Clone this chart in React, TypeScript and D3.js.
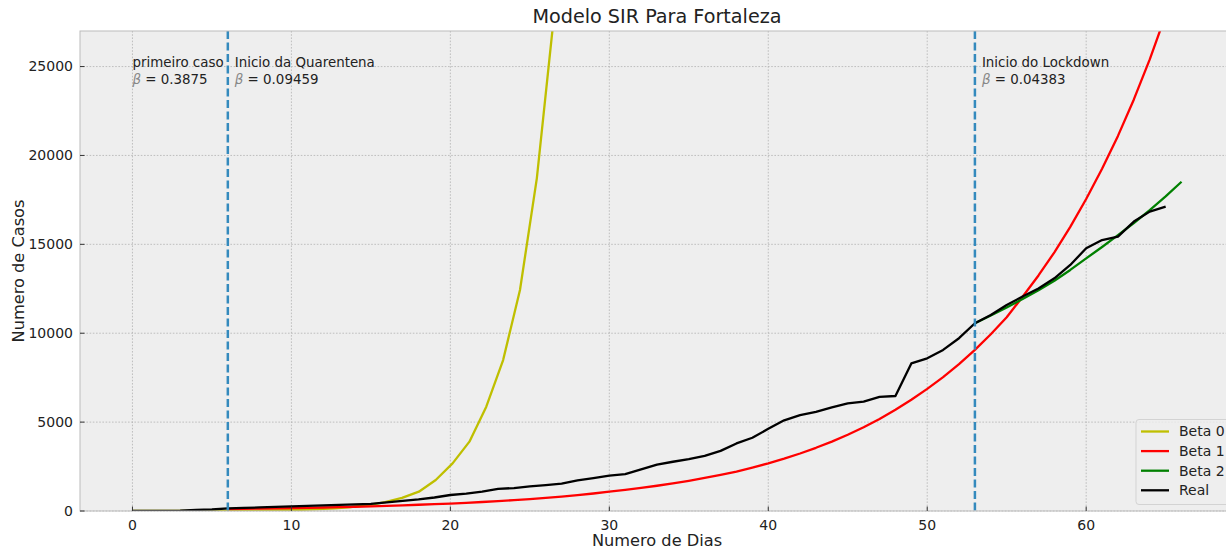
import React from 'react';
import * as d3 from 'd3';

// Dados (dias x casos acumulados)
const realDays = d3.range(0, 66);
const realCases = [
  3, 8, 12, 25, 60, 85, 150, 175, 200, 230, 260, 290, 320, 350, 370, 400, 480, 570, 650, 760,
  900, 980, 1090, 1250, 1290, 1380, 1460, 1540, 1720, 1850, 1990, 2070, 2340, 2610, 2770, 2920,
  3100, 3380, 3800, 4120, 4620, 5100, 5390, 5580, 5830, 6050, 6150, 6420, 6470, 8300, 8590,
  9060, 9720, 10560, 11020, 11590, 12060, 12520, 13090, 13840, 14780, 15240, 15430, 16280,
  16840, 17120,
];

const beta0Days = [
  0, 1.06, 2.12, 3.18, 4.24, 5.3, 6.36, 7.42, 8.48, 9.54, 10.6, 11.66, 12.72, 13.78, 14.84,
  15.9, 16.96, 18.02, 19.08, 20.14, 21.2, 22.26, 23.32, 24.38, 25.44, 26.5, 27.56,
];
const beta0Cases = [
  1, 2, 3, 5, 7, 10, 15, 22, 32, 47, 70, 103, 153, 226, 335, 496, 734, 1086, 1743, 2680, 3900,
  5866, 8490, 12430, 18712, 27700, 41000,
];

const beta1Days = d3.range(6, 66);
const beta1Cases = [
  110, 122, 134, 148, 163, 180, 198, 218, 240, 264, 290, 320, 352, 385, 420, 460, 505, 555, 610,
  670, 735, 810, 890, 985, 1086, 1190, 1300, 1420, 1550, 1700, 1860, 2030, 2220, 2440, 2680,
  2945, 3235, 3555, 3905, 4290, 4715, 5180, 5700, 6260, 6870, 7530, 8260, 9060, 9940, 10900,
  12050, 13250, 14550, 15980, 17550, 19250, 21100, 23150, 25400, 27900,
];

const beta2Days = d3.range(53, 67);
const beta2Cases = [
  10560, 11000, 11450, 11920, 12420, 12950, 13560, 14210, 14850, 15520, 16200, 16930, 17700, 18520,
];

const events = [
  {day: 6, label: 'Inicio da Quarentena', beta: '0.09459'},
  {day: 53, label: 'Inicio do Lockdown', beta: '0.04383'},
];
const firstCase = {day: 0, label: 'primeiro caso', beta: '0.3875'};

const xTicks = [0, 10, 20, 30, 40, 50, 60];
const yTicks = [0, 5000, 10000, 15000, 20000, 25000];

const series = [
  {name: 'Beta 0', color: '#bfbf00', days: beta0Days, cases: beta0Cases},
  {name: 'Beta 1', color: '#ff0000', days: beta1Days, cases: beta1Cases},
  {name: 'Beta 2', color: '#008000', days: beta2Days, cases: beta2Cases},
  {name: 'Real', color: '#000000', days: realDays, cases: realCases},
];

const W = 1226;
const H = 550;
const margin = {left: 80, top: 31, right: 1234, bottom: 511};
const font = 'DejaVu Sans, sans-serif';

export default function App() {
  const x = d3.scaleLinear().domain([-3.3, 69.3]).range([margin.left, margin.right]);
  const y = d3.scaleLinear().domain([0, 27000]).range([margin.bottom, margin.top]);

  const line = d3.line<[number, number]>()
      .x(d => x(d[0]))
      .y(d => y(d[1]));

  const plotW = margin.right - margin.left;
  const plotH = margin.bottom - margin.top;

  const annotation = (d: {day: number, label: string, beta: string}, key: string) => {
    const tx = x(d.day) + (d.day === 0 ? 0 : 7);
    return (
        <text key={key} x={tx} y={66.5} fontSize={13.4} fill="#222">
          <tspan>{d.label}</tspan>
          <tspan x={tx} dy={17}>
            <tspan fontStyle="italic" fill="#888">β</tspan> = {d.beta}
          </tspan>
        </text>
    );
  };

  return (
      <svg width={W} height={H} style={{position: 'absolute', left: 0, top: 0, background: '#fff'}}
           fontFamily={font}>
        <defs>
          <clipPath id="plot">
            <rect x={margin.left} y={margin.top} width={plotW} height={plotH}/>
          </clipPath>
        </defs>
        <rect x={margin.left} y={margin.top} width={plotW} height={plotH} fill="#eeeeee"/>

        {/* grade */}
        <g stroke="#b2b2b2" strokeWidth={0.8} strokeDasharray="1.6,1.6">
          {xTicks.map(t => <line key={`gx${t}`} x1={x(t)} x2={x(t)} y1={margin.top} y2={margin.bottom}/>)}
          {yTicks.map(t => <line key={`gy${t}`} x1={margin.left} x2={margin.right} y1={y(t)} y2={y(t)}/>)}
        </g>

        <g clipPath="url(#plot)">
          {series.map(s => (
              <path key={s.name}
                    d={line(s.days.map((d, i) => [d, s.cases[i]] as [number, number])) || ''}
                    fill="none" stroke={s.color} strokeWidth={2.3} strokeLinejoin="round"/>
          ))}
          {events.map(e => (
              <line key={`ev${e.day}`} x1={x(e.day)} x2={x(e.day)} y1={margin.top} y2={margin.bottom}
                    stroke="#348ABD" strokeWidth={2.5} strokeDasharray="8,3.5"/>
          ))}
        </g>

        {annotation(firstCase, 'first')}
        {events.map(e => annotation(e, `a${e.day}`))}

        {/* moldura */}
        <rect x={margin.left} y={margin.top} width={plotW} height={plotH} fill="none"
              stroke="#bcbcbc" strokeWidth={1}/>

        {/* eixo x */}
        {xTicks.map(t => (
            <g key={`tx${t}`}>
              <line x1={x(t)} x2={x(t)} y1={margin.bottom} y2={margin.bottom - 4.5} stroke="#333" strokeWidth={1}/>
              <text x={x(t)} y={530} textAnchor="middle" fontSize={14} fill="#222">{t}</text>
            </g>
        ))}
        {/* eixo y */}
        {yTicks.map(t => (
            <g key={`ty${t}`}>
              <line x1={margin.left} x2={margin.left + 4.5} y1={y(t)} y2={y(t)} stroke="#333" strokeWidth={1}/>
              <text x={73} y={y(t)} dy="0.35em" textAnchor="end" fontSize={14} fill="#222">{t}</text>
            </g>
        ))}

        <text x={(margin.left + margin.right) / 2} y={546} textAnchor="middle" fontSize={16.2} fill="#222">
          Numero de Dias
        </text>
        <text transform={`translate(24, ${(margin.top + margin.bottom) / 2}) rotate(-90)`}
              textAnchor="middle" fontSize={16.2} fill="#222">
          Numero de Casos
        </text>
        <text x={(margin.left + margin.right) / 2} y={23} textAnchor="middle" fontSize={19.2} fill="#222">
          Modelo SIR Para Fortaleza
        </text>

        {/* legenda */}
        <g>
          <rect x={1136} y={419.5} width={110} height={85} rx={3} fill="#eeeeee" fillOpacity={0.8}
                stroke="#d3d3d3" strokeWidth={1}/>
          {series.map((s, i) => (
              <g key={`lg${s.name}`} transform={`translate(0, ${431.5 + i * 19.6})`}>
                <line x1={1141} x2={1169} y1={0} y2={0} stroke={s.color} strokeWidth={2.3}/>
                <text x={1179} y={0} dy="0.35em" fontSize={14} fill="#222">{s.name}</text>
              </g>
          ))}
        </g>
      </svg>
  );
}
